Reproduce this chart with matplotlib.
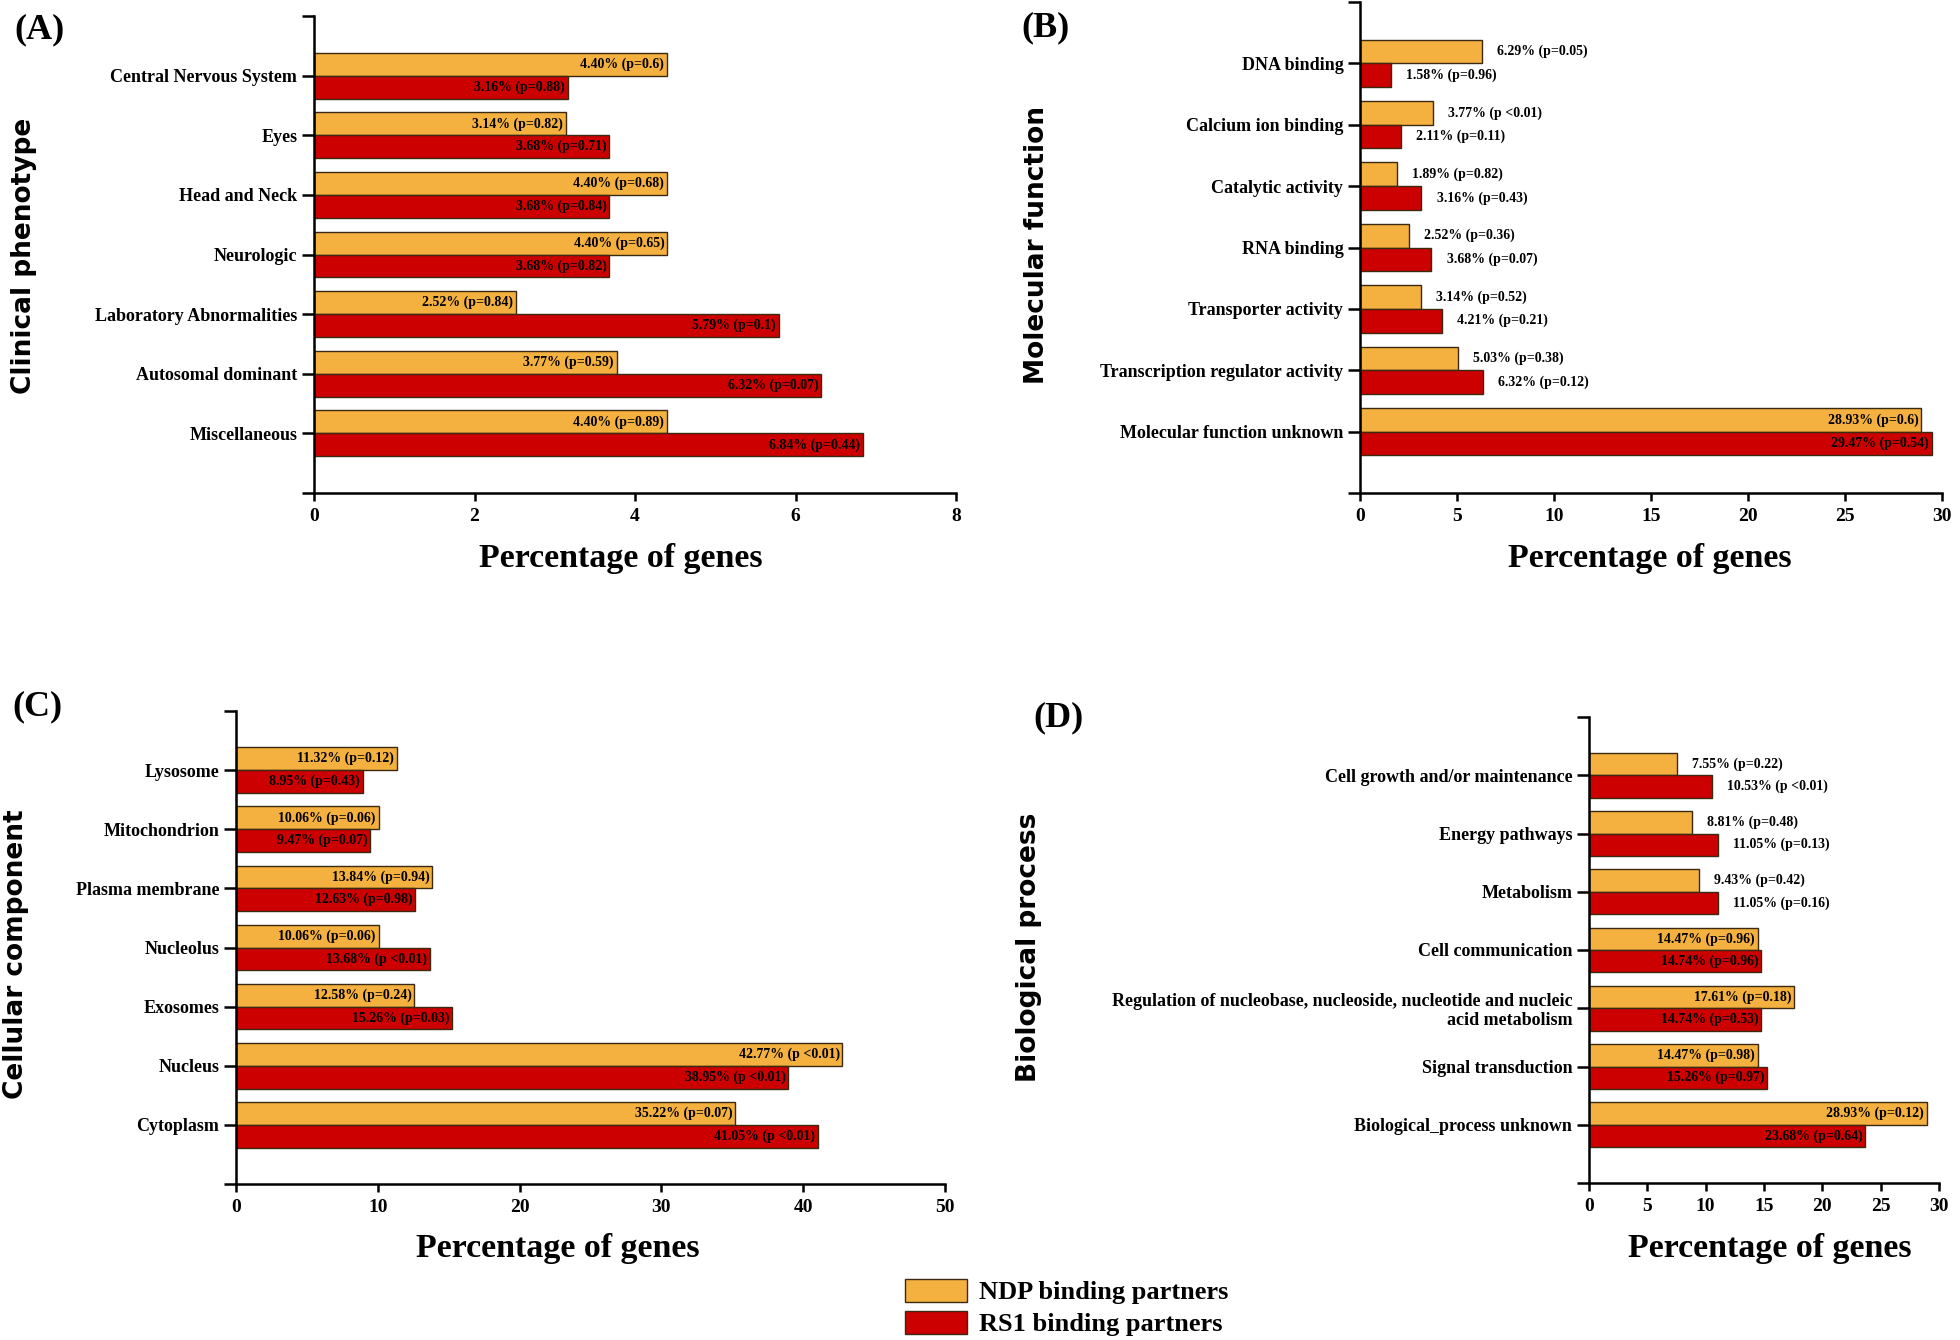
import matplotlib
matplotlib.use("Agg")
import matplotlib.pyplot as plt
from matplotlib.patches import Patch

SERIF = "Liberation Serif"
SANS = "DejaVu Sans"
NDP_COLOR = "#F5B13F"
RS1_COLOR = "#CC0000"
EDGE = "#3a2a12"

# ---------------- data ----------------
a_cats = ["Central Nervous System", "Eyes", "Head and Neck", "Neurologic",
          "Laboratory Abnormalities", "Autosomal dominant", "Miscellaneous"]
a_ndp = [4.40, 3.14, 4.40, 4.40, 2.52, 3.77, 4.40]
a_ndp_p = ["p=0.6", "p=0.82", "p=0.68", "p=0.65", "p=0.84", "p=0.59", "p=0.89"]
a_rs1 = [3.16, 3.68, 3.68, 3.68, 5.79, 6.32, 6.84]
a_rs1_p = ["p=0.88", "p=0.71", "p=0.84", "p=0.82", "p=0.1", "p=0.07", "p=0.44"]

b_cats = ["DNA binding", "Calcium ion binding", "Catalytic activity", "RNA binding",
          "Transporter activity", "Transcription regulator activity",
          "Molecular function unknown"]
b_ndp = [6.29, 3.77, 1.89, 2.52, 3.14, 5.03, 28.93]
b_ndp_p = ["p=0.05", "p <0.01", "p=0.82", "p=0.36", "p=0.52", "p=0.38", "p=0.6"]
b_rs1 = [1.58, 2.11, 3.16, 3.68, 4.21, 6.32, 29.47]
b_rs1_p = ["p=0.96", "p=0.11", "p=0.43", "p=0.07", "p=0.21", "p=0.12", "p=0.54"]

c_cats = ["Lysosome", "Mitochondrion", "Plasma membrane", "Nucleolus",
          "Exosomes", "Nucleus", "Cytoplasm"]
c_ndp = [11.32, 10.06, 13.84, 10.06, 12.58, 42.77, 35.22]
c_ndp_p = ["p=0.12", "p=0.06", "p=0.94", "p=0.06", "p=0.24", "p <0.01", "p=0.07"]
c_rs1 = [8.95, 9.47, 12.63, 13.68, 15.26, 38.95, 41.05]
c_rs1_p = ["p=0.43", "p=0.07", "p=0.98", "p <0.01", "p=0.03", "p <0.01", "p <0.01"]

d_cats = ["Cell growth and/or maintenance", "Energy pathways", "Metabolism",
          "Cell communication",
          "Regulation of nucleobase, nucleoside, nucleotide and nucleic\nacid metabolism",
          "Signal transduction", "Biological_process unknown"]
d_ndp = [7.55, 8.81, 9.43, 14.47, 17.61, 14.47, 28.93]
d_ndp_p = ["p=0.22", "p=0.48", "p=0.42", "p=0.96", "p=0.18", "p=0.98", "p=0.12"]
d_rs1 = [10.53, 11.05, 11.05, 14.74, 14.74, 15.26, 23.68]
d_rs1_p = ["p <0.01", "p=0.13", "p=0.16", "p=0.96", "p=0.53", "p=0.97", "p=0.64"]

series_names = ["NDP binding partners", "RS1 binding partners"]

# ---------------- layout ----------------
W, H = 1960, 1340


def fx(x):
    return x / W


def fy(y):
    return 1 - y / H


def rect(l, t, r, b):
    return [fx(l), fy(b), (r - l) / W, (b - t) / H]


panels = [
    dict(letter="(A)", lpos=(14, 30), ylabel="Clinical phenotype", ylpos=(24, 256),
         xlpos=(621, 559), cats=a_cats, ndp=a_ndp, ndp_p=a_ndp_p, rs1=a_rs1, rs1_p=a_rs1_p,
         xmax=8, step=2, box=(314, 16, 956, 493), n_out=0),
    dict(letter="(B)", lpos=(1021, 28), ylabel="Molecular function", ylpos=(1037, 245),
         xlpos=(1650, 559), cats=b_cats, ndp=b_ndp, ndp_p=b_ndp_p, rs1=b_rs1, rs1_p=b_rs1_p,
         xmax=30, step=5, box=(1360, 2, 1942, 493), n_out=6),
    dict(letter="(C)", lpos=(12, 707), ylabel="Cellular component", ylpos=(16, 954),
         xlpos=(558, 1248), cats=c_cats, ndp=c_ndp, ndp_p=c_ndp_p, rs1=c_rs1, rs1_p=c_rs1_p,
         xmax=50, step=10, box=(236, 711, 945, 1184), n_out=0),
    dict(letter="(D)", lpos=(1033, 718), ylabel="Biological process", ylpos=(1029, 947),
         xlpos=(1770, 1248), cats=d_cats, ndp=d_ndp, ndp_p=d_ndp_p, rs1=d_rs1, rs1_p=d_rs1_p,
         xmax=30, step=5, box=(1589, 717, 1939, 1183), n_out=3),
]

fig = plt.figure(figsize=(W / 100, H / 100), dpi=100)
fig.patch.set_facecolor("white")

BH = 0.385

for p in panels:
    ax = fig.add_axes(rect(*p["box"]))
    n = len(p["cats"])
    ys = list(range(n))
    y_ndp = [y - BH / 2 for y in ys]
    y_rs1 = [y + BH / 2 for y in ys]
    ax.barh(y_ndp, p["ndp"], height=BH, color=NDP_COLOR, edgecolor=EDGE, linewidth=1.0)
    ax.barh(y_rs1, p["rs1"], height=BH, color=RS1_COLOR, edgecolor=EDGE, linewidth=1.0)

    for i in range(n):
        outside = i < p["n_out"]
        for yy, v, pv in ((y_ndp[i], p["ndp"][i], p["ndp_p"][i]),
                          (y_rs1[i], p["rs1"][i], p["rs1_p"][i])):
            txt = f"{v:.2f}% ({pv})"
            if outside:
                ax.annotate(txt, (v, yy), xytext=(11, 0), textcoords="offset points",
                            ha="left", va="center", fontsize=10, fontweight="bold",
                            family=SERIF, color="black")
            else:
                ax.annotate(txt, (v, yy), xytext=(-2, 0), textcoords="offset points",
                            ha="right", va="center", fontsize=10, fontweight="bold",
                            family=SERIF, color="black")

    ax.set_ylim(n, -1)
    ax.set_xlim(0, p["xmax"])
    ax.set_yticks(list(range(-1, n + 1)))
    ax.set_yticklabels([""] + p["cats"] + [""])
    ax.set_xticks(list(range(0, p["xmax"] + 1, p["step"])))
    for s in ("top", "right"):
        ax.spines[s].set_visible(False)
    for s in ("left", "bottom"):
        ax.spines[s].set_linewidth(1.8)
    ax.tick_params(axis="y", length=9, width=1.8, direction="out", pad=3)
    ax.tick_params(axis="x", length=6, width=1.8, direction="out", pad=5)
    for lbl in ax.get_yticklabels():
        lbl.set_fontfamily(SERIF)
        lbl.set_fontweight("bold")
        lbl.set_fontsize(13)
        lbl.set_multialignment("right")
        lbl.set_linespacing(1.1)
    for lbl in ax.get_xticklabels():
        lbl.set_fontfamily(SERIF)
        lbl.set_fontweight("bold")
        lbl.set_fontsize(14)

    fig.text(fx(p["lpos"][0]), fy(p["lpos"][1]), p["letter"], ha="left", va="center",
             fontsize=26, fontweight="bold", family=SERIF)
    fig.text(fx(p["ylpos"][0]), fy(p["ylpos"][1]), p["ylabel"], ha="center", va="center",
             rotation=90, fontsize=19, fontweight="bold", family=SANS)
    fig.text(fx(p["xlpos"][0]), fy(p["xlpos"][1]), "Percentage of genes", ha="center",
             va="center", fontsize=24.5, fontweight="bold", family=SERIF)

handles = [Patch(facecolor=NDP_COLOR, edgecolor=EDGE, linewidth=1.0),
           Patch(facecolor=RS1_COLOR, edgecolor=EDGE, linewidth=1.0)]
leg = fig.legend(handles, series_names, loc="upper left",
                 bbox_to_anchor=(fx(905), fy(1279)), frameon=False,
                 prop=dict(family=SERIF, weight="bold", size=19),
                 handlelength=2.35, handleheight=0.95, handletextpad=0.45,
                 labelspacing=0.25, borderpad=0, borderaxespad=0)

fig.savefig("out.png", dpi=100, facecolor="white")
